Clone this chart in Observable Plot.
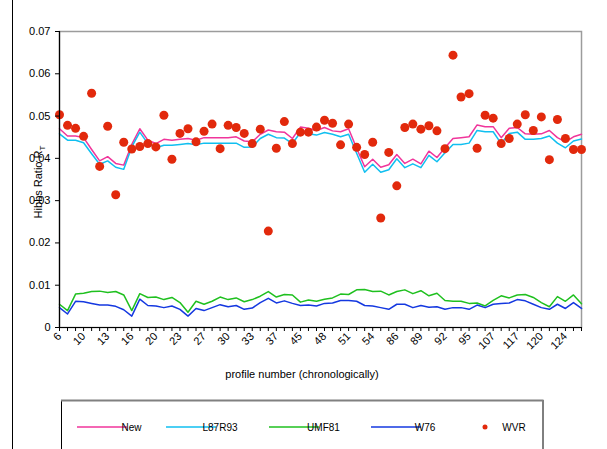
<!DOCTYPE html>
<html><head><meta charset="utf-8">
<script src="https://cdn.jsdelivr.net/npm/d3@7"></script>
<script src="https://cdn.jsdelivr.net/npm/@observablehq/plot@0.6"></script>
<style>
body{margin:0;background:#fff;}
#chart{position:relative;width:607px;height:449px;overflow:hidden;font-family:"Liberation Sans",Arial,sans-serif;}
</style>
</head><body><div id="chart"></div>
<script>
const tickLabels = ["6","10","13","16","20","23","27","30","33","37","45","48","51","54","86","89","92","95","107","117","120","124"];
const yTicks = [0, 0.01, 0.02, 0.03, 0.04, 0.05, 0.06, 0.07];
const seriesNames = ["New", "L87R93", "UMF81", "W76", "WVR"];
const seriesColors = ["#f0359b", "#10bff0", "#1fc01f", "#1438e0", "#e2290c"];

const newR = [0.0470,0.0453,0.0453,0.0449,0.0421,0.0394,0.0404,0.0388,0.0384,0.0433,
  0.0470,0.0443,0.0435,0.0445,0.0443,0.0445,0.0447,0.0443,0.0449,0.0449,
  0.0449,0.0449,0.0451,0.0441,0.0439,0.0457,0.0467,0.0463,0.0462,0.0447,
  0.0474,0.0471,0.0466,0.0473,0.0465,0.0463,0.0470,0.0424,0.0380,0.0398,
  0.0379,0.0385,0.0409,0.0388,0.0398,0.0387,0.0417,0.0402,0.0425,0.0447,
  0.0449,0.0451,0.0479,0.0475,0.0475,0.0449,0.0471,0.0473,0.0458,0.0457,
  0.0458,0.0466,0.0449,0.0439,0.0451,0.0457];
const l87r93 = [0.0458,0.0443,0.0443,0.0437,0.0411,0.0386,0.0394,0.0379,0.0374,0.0427,
  0.0462,0.0435,0.0425,0.0431,0.0431,0.0433,0.0435,0.0432,0.0436,0.0436,
  0.0436,0.0436,0.0436,0.0426,0.0427,0.0447,0.0457,0.0449,0.0448,0.0435,
  0.0461,0.0458,0.0455,0.0461,0.0457,0.0451,0.0457,0.0412,0.0367,0.0386,
  0.0367,0.0373,0.0399,0.0378,0.0387,0.0378,0.0407,0.0392,0.0413,0.0433,
  0.0433,0.0436,0.0466,0.0463,0.0463,0.0435,0.0459,0.0462,0.0445,0.0445,
  0.0447,0.0453,0.0436,0.0425,0.0441,0.0446];
const umf81 = [0.0055,0.0040,0.0079,0.0081,0.0085,0.0086,0.0083,0.0085,0.0077,0.0040,
  0.0080,0.0071,0.0072,0.0066,0.0071,0.0059,0.0036,0.0062,0.0055,0.0062,
  0.0072,0.0066,0.0070,0.0061,0.0066,0.0074,0.0085,0.0072,0.0078,0.0077,
  0.0060,0.0065,0.0062,0.0067,0.0070,0.0079,0.0078,0.0089,0.0090,0.0085,
  0.0086,0.0077,0.0085,0.0089,0.0080,0.0087,0.0075,0.0081,0.0064,0.0062,
  0.0062,0.0057,0.0058,0.0051,0.0064,0.0075,0.0070,0.0077,0.0078,0.0071,
  0.0059,0.0049,0.0073,0.0062,0.0077,0.0056];
const w76 = [0.0047,0.0032,0.0062,0.0061,0.0057,0.0053,0.0053,0.0050,0.0042,0.0027,
  0.0067,0.0052,0.0051,0.0047,0.0051,0.0043,0.0027,0.0045,0.0040,0.0047,
  0.0054,0.0049,0.0052,0.0043,0.0046,0.0059,0.0069,0.0058,0.0063,0.0057,
  0.0052,0.0053,0.0051,0.0057,0.0058,0.0064,0.0064,0.0062,0.0052,0.0051,
  0.0047,0.0043,0.0055,0.0055,0.0047,0.0052,0.0048,0.0049,0.0043,0.0047,
  0.0047,0.0043,0.0053,0.0047,0.0055,0.0057,0.0058,0.0066,0.0063,0.0055,
  0.0047,0.0043,0.0055,0.0045,0.0059,0.0045];
const wvr = [0.0503,0.0478,0.0471,0.0452,0.0554,0.0381,0.0476,0.0314,0.0438,0.0422,
  0.0428,0.0435,0.0427,0.0502,0.0398,0.0459,0.0470,0.0439,0.0464,0.0481,
  0.0423,0.0478,0.0473,0.0459,0.0435,0.0469,0.0228,0.0424,0.0487,0.0435,
  0.0462,0.0462,0.0474,0.0490,0.0483,0.0432,0.0481,0.0426,0.0409,0.0438,
  0.0259,0.0414,0.0335,0.0473,0.0481,0.0469,0.0477,0.0465,0.0423,0.0644,
  0.0545,0.0553,0.0424,0.0502,0.0495,0.0435,0.0447,0.0481,0.0503,0.0466,
  0.0498,0.0397,0.0492,0.0447,0.0421,0.0421];

const n = newR.length;
const idx = d3.range(n);
const rows = (vals) => vals.map((v, i) => ({i, v}));
const font = "'Liberation Sans', Arial, sans-serif";

const plot = Plot.plot({
  width: 607, height: 449,
  marginLeft: 59, marginRight: 26, marginTop: 31, marginBottom: 122,
  style: {fontFamily: font, fontSize: "11px", background: "#fff", color: "#000", overflow: "visible"},
  x: {domain: [0, n - 1]},
  y: {domain: [0, 0.07]},
  marks: [
    Plot.frame({stroke: "#9c9c9c", strokeWidth: 1.5}),
    Plot.line(rows(newR), {x: "i", y: "v", stroke: seriesColors[0], strokeWidth: 1.5}),
    Plot.line(rows(l87r93), {x: "i", y: "v", stroke: seriesColors[1], strokeWidth: 1.5}),
    Plot.line(rows(umf81), {x: "i", y: "v", stroke: seriesColors[2], strokeWidth: 1.5}),
    Plot.line(rows(w76), {x: "i", y: "v", stroke: seriesColors[3], strokeWidth: 1.5}),
    Plot.dot(rows(wvr), {x: "i", y: "v", r: 4.5, fill: seriesColors[4], stroke: null}),
    Plot.ruleX([0], {stroke: "#000", strokeWidth: 1.2}),
    Plot.ruleY([0], {stroke: "#000", strokeWidth: 1.2}),
    Plot.axisY({ticks: yTicks, tickSize: 4, tickPadding: 5, label: null, fontSize: 11,
      tickFormat: d => d === 0 ? "0" : d3.format(".2f")(d)}),
    Plot.axisX({ticks: idx, tickSize: 4, tickPadding: 3, tickRotate: -45, label: null, fontSize: 11,
      tickFormat: i => (i % 3 === 0 && tickLabels[i / 3] !== undefined) ? tickLabels[i / 3] : ""})
  ]
});
document.getElementById("chart").appendChild(plot);

const svg = d3.select(plot);
// outer chart border (left)
svg.append("line").attr("x1", 12.5).attr("x2", 12.5).attr("y1", 0).attr("y2", 449)
  .attr("stroke", "#000").attr("stroke-width", 1);

// y label with subscript
const yl = svg.append("text")
  .attr("transform", "translate(42,182) rotate(-90)")
  .attr("text-anchor", "middle")
  .attr("font-family", font).attr("font-size", 11).attr("fill", "#000");
yl.append("tspan").text("Hibbs Ratio R");
yl.append("tspan").attr("font-size", 8).attr("dy", 3).text("T");

// x label
svg.append("text").attr("x", 302).attr("y", 378).attr("text-anchor", "middle")
  .attr("font-family", font).attr("font-size", 11).attr("fill", "#000")
  .text("profile number (chronologically)");

// legend
const lg = svg.append("g");
lg.append("rect").attr("x", 61.5).attr("y", 400.5).attr("width", 481.5).attr("height", 60)
  .attr("fill", "#fff").attr("stroke", "#000").attr("stroke-width", 1);
lg.append("line").attr("x1", 61).attr("x2", 543.5).attr("y1", 400.5).attr("y2", 400.5)
  .attr("stroke", "#808080").attr("stroke-width", 2);
const legLineX = [77, 166, 269, 371];
const legTextX = [131.5, 220, 323.5, 425, 514];
const ly = 427;
for (let k = 0; k < 4; k++) {
  lg.append("line").attr("x1", legLineX[k]).attr("x2", legLineX[k] + 50).attr("y1", ly).attr("y2", ly)
    .attr("stroke", seriesColors[k]).attr("stroke-width", 1.5);
}
lg.append("circle").attr("cx", 485).attr("cy", ly).attr("r", 2.5).attr("fill", seriesColors[4]);
for (let k = 0; k < 5; k++) {
  lg.append("text").attr("x", legTextX[k]).attr("y", ly + 3.5)
    .attr("font-family", font).attr("font-size", 10).attr("fill", "#000").text(seriesNames[k]);
}
</script>
</body></html>
